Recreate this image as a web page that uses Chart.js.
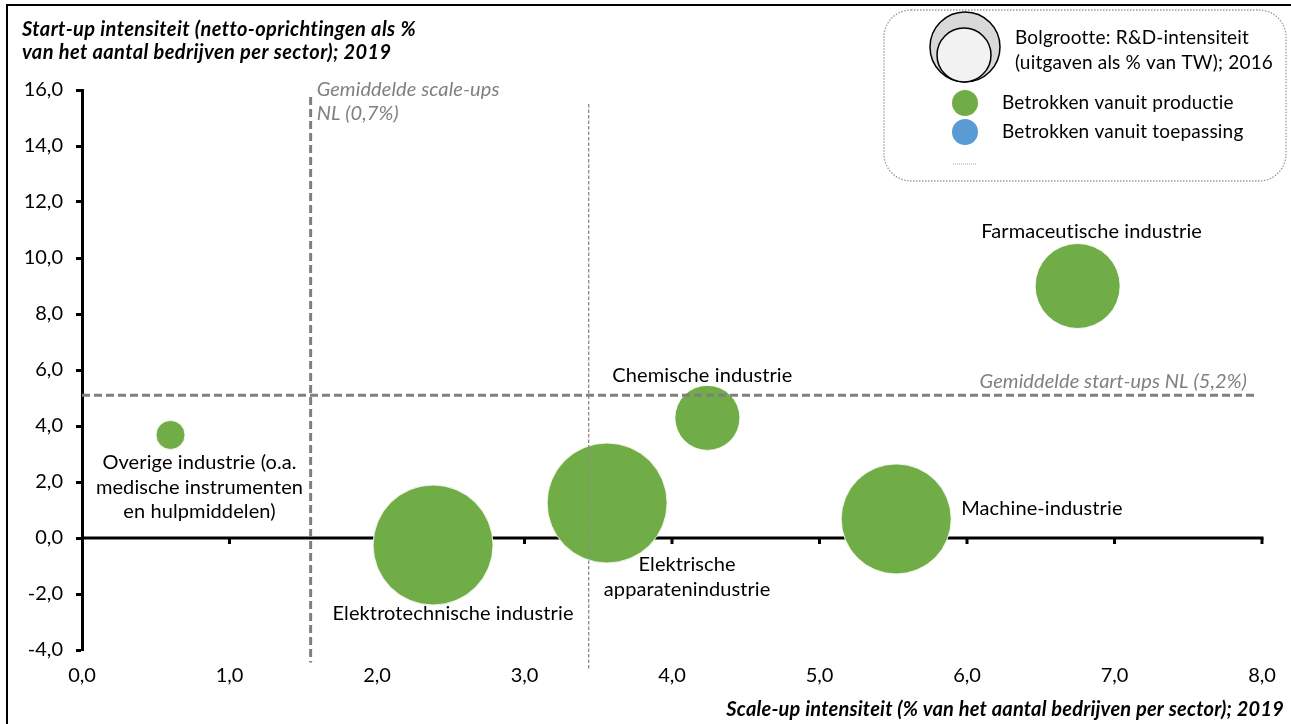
<!DOCTYPE html>
<html><head><meta charset="utf-8">
<script src="https://cdn.jsdelivr.net/npm/chart.js@4/dist/chart.umd.min.js"></script>
<style>html,body{margin:0;padding:0;background:#fff}canvas{display:block}</style>
</head><body>
<canvas id="c" width="1291" height="724"></canvas>
<script>
// ---- data ----
const sectorLabels = [
  ["Overige industrie (o.a.", "medische instrumenten", "en hulpmiddelen)"],
  ["Elektrotechnische industrie"],
  ["Elektrische", "apparatenindustrie"],
  ["Chemische industrie"],
  ["Machine-industrie"],
  ["Farmaceutische industrie"]
];
const scaleUpIntensity = [0.60, 2.38, 3.56, 4.24, 5.52, 6.75];
const startUpIntensity = [3.68, -0.25, 1.25, 4.29, 0.68, 9.00];
const rdBubbleSize = [14.5, 60, 60, 32.5, 55, 42.5];
const seriesNames = ["Betrokken vanuit productie", "Betrokken vanuit toepassing"];
const xTickValues = [0, 1, 2, 3, 4, 5, 6, 7, 8];
const yTickValues = [-4, -2, 0, 2, 4, 6, 8, 10, 12, 14, 16];
const avgStartUpsLine = 5.1;
const avgScaleUpsLine = 1.55;
const extraDottedLine = 3.435;
const yTitleLines = ["Start-up intensiteit (netto-oprichtingen als %", "van het aantal bedrijven per sector); 2019"];
const xTitle = "Scale-up intensiteit (% van het aantal bedrijven per sector); 2019";
const scaleUpsNote = ["Gemiddelde scale-ups", "NL (0,7%)"];
const startUpsNote = "Gemiddelde start-ups NL (5,2%)";
const sizeLegendLines = ["Bolgrootte: R&D-intensiteit", "(uitgaven als % van TW); 2016"];

// ---- layout / style (not data) ----
const FONT = "Lato, 'Open Sans', sans-serif";
const labelLayout = [
  {dx: 29, dy: 28, align: 'center'},
  {dx: 20, dy: 69, align: 'center'},
  {dx: 80, dy: 62, align: 'center'},
  {dx: -5, dy: -42, align: 'center'},
  {dx: 65, dy: -10, align: 'left'},
  {dx: 14, dy: -54, align: 'center'}
];
const GREEN = '#70ad47', BLUE = '#5b9bd5', GREY = '#7f7f7f';
const fmt = v => Number(v).toFixed(1).replace('.', ',');

const bubbleData = scaleUpIntensity.map((x, i) => ({x, y: startUpIntensity[i], r: rdBubbleSize[i]}));

function spaced(ctx, sp) { if ('letterSpacing' in ctx) ctx.letterSpacing = sp + 'px'; }

const decor = {
  id: 'decor',
  beforeDatasetsDraw(chart) {
    const {ctx, scales: {x, y}} = chart;
    ctx.save();
    const y0 = y.getPixelForValue(0);
    ctx.strokeStyle = '#000'; ctx.lineWidth = 3; ctx.lineCap = 'butt';
    ctx.beginPath();
    ctx.moveTo(x.getPixelForValue(xTickValues[0]), y0);
    ctx.lineTo(x.getPixelForValue(xTickValues[xTickValues.length - 1]) + 1.5, y0);
    ctx.stroke();
    xTickValues.slice(1).forEach(v => {
      const px = x.getPixelForValue(v);
      ctx.beginPath(); ctx.moveTo(px, y0); ctx.lineTo(px, y0 + 6); ctx.stroke();
    });
    ctx.restore();
  },
  afterDatasetsDraw(chart) {
    const {ctx, scales: {x, y}} = chart;
    ctx.save();
    // reference lines
    ctx.strokeStyle = GREY;
    ctx.lineWidth = 3; ctx.setLineDash([8, 4]);
    ctx.beginPath();
    ctx.moveTo(x.getPixelForValue(avgScaleUpsLine), y.getPixelForValue(15.75));
    ctx.lineTo(x.getPixelForValue(avgScaleUpsLine), y.getPixelForValue(-4.45));
    ctx.stroke();
    ctx.beginPath();
    ctx.moveTo(x.getPixelForValue(0), y.getPixelForValue(avgStartUpsLine));
    ctx.lineTo(x.getPixelForValue(7.97), y.getPixelForValue(avgStartUpsLine));
    ctx.stroke();
    ctx.lineWidth = 1.3; ctx.setLineDash([3.5, 2]); ctx.strokeStyle = '#8c8c8c';
    ctx.beginPath();
    ctx.moveTo(x.getPixelForValue(extraDottedLine), y.getPixelForValue(15.5));
    ctx.lineTo(x.getPixelForValue(extraDottedLine), y.getPixelForValue(-4.7));
    ctx.stroke();
    ctx.setLineDash([]);

    // bubble labels
    ctx.fillStyle = '#000';
    ctx.font = `20px ${FONT}`;
    spaced(ctx, 0.1);
    ctx.textBaseline = 'middle';
    bubbleData.forEach((d, i) => {
      const px = x.getPixelForValue(d.x), py = y.getPixelForValue(d.y);
      const L = labelLayout[i];
      ctx.textAlign = L.align;
      sectorLabels[i].forEach((line, j) => ctx.fillText(line, px + L.dx, py + L.dy + j * 24.5));
    });

    // grey italic notes
    ctx.fillStyle = '#808080';
    ctx.font = `italic 20px ${FONT}`;
    spaced(ctx, 0.1);
    ctx.textAlign = 'left';
    ctx.fillText(scaleUpsNote[0], x.getPixelForValue(avgScaleUpsLine) + 6, 90);
    ctx.fillText(scaleUpsNote[1], x.getPixelForValue(avgScaleUpsLine) + 6, 114);
    ctx.textAlign = 'right';
    ctx.fillText(startUpsNote, 1247, y.getPixelForValue(avgStartUpsLine) - 14);

    // axis titles
    ctx.fillStyle = '#000';
    ctx.font = `bold italic 20px ${FONT}`;
    spaced(ctx, 0.4);
    ctx.textAlign = 'left';
    ctx.fillText(yTitleLines[0], 22, 30);
    ctx.fillText(yTitleLines[1], 22, 53);
    spaced(ctx, 0.2);
    ctx.textAlign = 'right';
    ctx.fillText(xTitle, 1284, 710);

    // frame (top & left edges)
    ctx.strokeStyle = '#000'; ctx.lineWidth = 2;
    ctx.beginPath(); ctx.moveTo(7, 724); ctx.lineTo(7, 5); ctx.lineTo(1291, 5); ctx.stroke();

    // legend
    ctx.strokeStyle = '#9a9a9a'; ctx.lineWidth = 1.3; ctx.setLineDash([1.5, 1.5]);
    ctx.beginPath(); ctx.roundRect(884, 10, 402, 171, 27); ctx.fillStyle = '#fff'; ctx.fill(); ctx.stroke();
    ctx.setLineDash([]);
    ctx.lineWidth = 1.5; ctx.strokeStyle = '#000';
    ctx.beginPath(); ctx.arc(965, 47, 35, 0, Math.PI * 2); ctx.fillStyle = '#d9d9d9'; ctx.fill(); ctx.stroke();
    ctx.beginPath(); ctx.arc(964, 55, 27, 0, Math.PI * 2); ctx.fillStyle = '#f2f2f2'; ctx.fill(); ctx.stroke();
    ctx.fillStyle = '#000'; ctx.font = `19px ${FONT}`; ctx.textAlign = 'left';
    spaced(ctx, 0.2);
    ctx.fillText(sizeLegendLines[0], 1015, 38);
    ctx.fillText(sizeLegendLines[1], 1015, 63);
    chart.data.datasets.forEach((ds, i) => {
      const cy = 103 + i * 29;
      ctx.beginPath(); ctx.arc(965, cy, 13, 0, Math.PI * 2); ctx.fillStyle = ds.backgroundColor; ctx.fill();
      ctx.fillStyle = '#000';
      ctx.fillText(ds.label, 1002, cy);
    });
    ctx.strokeStyle = '#a0a0a0'; ctx.lineWidth = 1; ctx.setLineDash([1, 1]);
    ctx.beginPath(); ctx.moveTo(953, 164); ctx.lineTo(977, 164); ctx.stroke();
    ctx.restore();
  }
};

new Chart(document.getElementById('c'), {
  type: 'bubble',
  data: {
    datasets: [
      {label: seriesNames[0], data: bubbleData, backgroundColor: GREEN, borderColor: 'rgba(255,255,255,0.85)', borderWidth: 1, clip: false},
      {label: seriesNames[1], data: [], backgroundColor: BLUE, borderColor: '#fff', borderWidth: 1}
    ]
  },
  options: {
    responsive: false,
    animation: false,
    events: [],
    layout: {autoPadding: false, padding: {left: 0, right: 29, top: 90, bottom: 0}},
    plugins: {legend: {display: false}, tooltip: {enabled: false}},
    scales: {
      x: {
        type: 'linear', min: 0, max: 8,
        afterFit: s => { s.height = 74; s.paddingLeft = 0; s.paddingRight = 0; },
        afterBuildTicks: s => { s.ticks = xTickValues.map(v => ({value: v})); },
        border: {display: false},
        grid: {display: false, drawTicks: false},
        ticks: {padding: 14, color: '#000', font: {family: FONT, size: 20}, callback: fmt, maxRotation: 0}
      },
      y: {
        type: 'linear', min: -4, max: 16,
        afterFit: s => { s.width = 82; s.paddingTop = 0; s.paddingBottom = 0; },
        afterBuildTicks: s => { s.ticks = yTickValues.map(v => ({value: v})); },
        border: {display: true, color: '#000', width: 3},
        grid: {drawOnChartArea: false, drawTicks: true, tickLength: 6, tickWidth: 3, tickColor: '#000'},
        ticks: {padding: 13, color: '#000', font: {family: FONT, size: 20}, callback: fmt}
      }
    }
  },
  plugins: [decor]
});
</script>
</body></html>
